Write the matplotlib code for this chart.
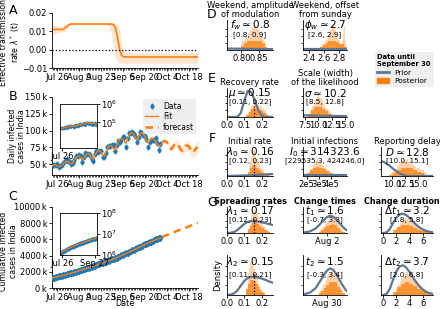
import numpy as np
import pandas as pd
import matplotlib
matplotlib.use("Agg")
import matplotlib.pyplot as plt
from matplotlib.lines import Line2D
from matplotlib.patches import Patch
from matplotlib.ticker import FuncFormatter, NullFormatter, FixedLocator

plt.rcParams['font.family'] = ['DejaVu Sans']
plt.rcParams['mathtext.fontset'] = 'dejavusans'

# ---------------- data ----------------
date_ticks = ['2020-07-26', '2020-08-09', '2020-08-23', '2020-09-06',
              '2020-09-20', '2020-10-04', '2020-10-18']
date_tick_labels = ['Jul 26', 'Aug 9', 'Aug 23', 'Sep 6', 'Sep 20', 'Oct 4', 'Oct 18']

lam_start = '2020-07-23'
lam_mid = ([0.011] * 7 + [0.0112, 0.0118, 0.0126, 0.0133, 0.0138, 0.0140] + [0.014] * 26 +
           [0.0136, 0.0122, 0.0092, 0.0045, 0.0002, -0.0028, -0.0037, -0.0040] + [-0.004] * 47)
lam_hi = ([0.0138, 0.0135, 0.0132, 0.0128, 0.0125, 0.0125, 0.0128] +
          [0.0133, 0.0137, 0.0141, 0.0144, 0.0145, 0.0145] + [0.0144] * 26 +
          [0.0145, 0.0145, 0.0143, 0.0135, 0.0100, 0.0040, 0.0000, -0.0012] + [-0.0016] * 47)
lam_lo = ([0.0082, 0.0085, 0.0088, 0.0092, 0.0095, 0.0096, 0.0097] +
          [0.0098, 0.0102, 0.0110, 0.0122, 0.0132, 0.0135] + [0.0136] * 23 + [0.0128, 0.0105, 0.0070] +
          [0.0020, -0.0030, -0.0060, -0.0070, -0.0073, -0.0074, -0.0075, -0.0075] + [-0.0074] * 47)

data_start = '2020-07-23'
daily_cases = [49310, 48916, 48661, 49931, 46484, 47703, 48513, 52123, 55079,
               57118, 54735, 52972, 50629, 52509, 56282, 62538, 61537, 64399, 62064,
               53601, 60963, 66999, 64553, 65002, 63490, 57981, 55079, 64531, 69652,
               68898, 69878, 69239, 61408, 60975, 67151, 75760, 77266, 76472, 78761, 78512,
               69921, 78357, 83883, 83341, 86432, 90632, 90802, 75809, 89706, 95735,
               96551, 97570, 94372, 92071, 83809, 90123, 97894, 96424, 93337, 92605,
               86961, 75083, 83347, 86508, 86052, 85362, 88600, 82170, 70589, 80472]
daily_fit = [48500, 48800, 49000, 48000, 46500, 46800, 48500, 51000, 53000,
             54500, 54000, 52000, 50500, 52000, 56000, 59500, 61500, 62000, 60000,
             56000, 58500, 63500, 65500, 65500, 63500, 59500, 58000, 63000, 67500,
             69500, 70000, 68000, 63500, 62500, 67500, 73500, 77000, 77500, 76500, 73500,
             71000, 77500, 84000, 87000, 88000, 87000, 83500, 81000, 88000, 94000,
             96500, 96500, 94000, 90000, 86500, 90500, 95500, 96500, 95000, 91000,
             85500, 81500, 84500, 87500, 88000, 87000, 84500, 79500, 76500, 79000]
forecast_start = '2020-10-01'
daily_forecast = [82000, 84000, 84500, 83000, 79000, 74000, 72500, 76000, 80000, 81000,
                  80000, 76000, 71500, 70000, 73500, 77000, 78000, 77000, 73000, 69000,
                  67500, 71000, 74000, 75000]
forecast_err = [3000, 3300, 3600, 3900, 4200, 4500, 4800, 5100, 5400, 5700,
                6000, 6300, 6600, 6900, 7200, 7500, 7800, 8100, 8400, 8700,
                9000, 9300, 9600, 9900]
cum_before_start = 1189325

# ---- posterior / prior panels ----
fw_prior_x = [0.758, 0.892]; fw_prior_y = [0.05, 0.03]
fw_light = [0.2, 0.35, 0.3, 0.45, 0.5, 0.4, 0.6, 0.55, 0.7, 0.65, 0.8, 0.75, 0.9, 0.85, 0.8,
            0.7, 0.75, 0.6, 0.55, 0.45, 0.5, 0.35, 0.3, 0.2, 0.1]
fw_dark = [0.15, 0.25, 0.3, 0.32, 0.33, 0.33, 0.32, 0.3, 0.25, 0.12]

phi_prior_x = [2.325, 2.9]; phi_prior_y = [0.04, 0.04]
phi_light = [0.1, 0.15, 0.2, 0.25, 0.3, 0.35, 0.4, 0.45, 0.55, 0.65, 0.75, 0.85, 0.9, 0.8, 0.7,
             0.55, 0.45, 0.35, 0.25, 0.2, 0.3, 0.6, 0.85, 0.3, 0.1]
phi_dark = [0.1, 0.18, 0.25, 0.3, 0.33, 0.33, 0.28, 0.2, 0.2, 0.1]

mu_prior_x = [0.0, 0.06, 0.08, 0.1, 0.12, 0.14, 0.16, 0.18, 0.2, 0.22, 0.265]
mu_prior_y = [0.0, 0.0, 0.15, 0.6, 0.95, 0.9, 0.6, 0.25, 0.05, 0.0, 0.0]
mu_light = [0.05, 0.1, 0.15, 0.2, 0.3, 0.35, 0.4, 0.5, 0.45, 0.5, 0.55, 0.45, 0.5, 0.4, 0.45,
            0.35, 0.3, 0.3, 0.25, 0.2, 0.15, 0.15, 0.1, 0.08, 0.05]
mu_dark = [0.08, 0.18, 0.28, 0.32, 0.3, 0.26, 0.2, 0.14, 0.09, 0.05]

sig_prior_x = [7.1, 15.4]; sig_prior_y = [0.06, 0.03]
sig_light = [0.05, 0.1, 0.2, 0.3, 0.4, 0.55, 0.6, 0.7, 0.75, 0.8, 0.7, 0.65, 0.6, 0.5, 0.45,
             0.35, 0.3, 0.25, 0.2, 0.15, 0.12, 0.1, 0.08, 0.05, 0.03]
sig_dark = [0.1, 0.25, 0.35, 0.38, 0.35, 0.28, 0.2, 0.12, 0.07, 0.03]

l0_prior_x = [0.0, 0.05, 0.1, 0.15, 0.2, 0.265]
l0_prior_y = [0.0, 0.01, 0.02, 0.03, 0.05, 0.07]
l0_light = [0.1, 0.2, 0.35, 0.5, 0.7, 0.85, 0.95, 0.8, 0.9, 0.7, 0.6, 0.65, 0.5, 0.4, 0.45,
            0.3, 0.25, 0.3, 0.2, 0.15, 0.1, 0.12, 0.08, 0.05, 0.03]
l0_dark = [0.15, 0.3, 0.38, 0.36, 0.3, 0.24, 0.17, 0.12, 0.07, 0.04]

i0_prior_x = [1.7e5, 5.3e5]; i0_prior_y = [0.03, 0.03]
i0_light = [0.05, 0.1, 0.15, 0.25, 0.3, 0.4, 0.5, 0.55, 0.6, 0.5, 0.55, 0.45, 0.4, 0.35, 0.3,
            0.25, 0.2, 0.2, 0.15, 0.12, 0.1, 0.08, 0.06, 0.04, 0.02]
i0_dark = [0.1, 0.2, 0.3, 0.33, 0.3, 0.24, 0.17, 0.11, 0.07, 0.03]

d_prior_x = [7.9, 8.5, 9, 9.5, 10, 10.5, 11, 11.5, 12, 12.5, 13, 17.9]
d_prior_y = [0.55, 0.5, 0.45, 0.38, 0.3, 0.22, 0.15, 0.09, 0.05, 0.02, 0.0, 0.0]
d_light = [0.05, 0.1, 0.15, 0.2, 0.25, 0.35, 0.45, 0.5, 0.55, 0.6, 0.55, 0.6, 0.5, 0.55, 0.45,
           0.4, 0.35, 0.3, 0.3, 0.25, 0.2, 0.2, 0.15, 0.1, 0.05]
d_dark = [0.05, 0.12, 0.2, 0.28, 0.3, 0.28, 0.22, 0.16, 0.1, 0.05]

lam_prior_x = [0.0, 0.02, 0.04, 0.06, 0.08, 0.1, 0.12, 0.14, 0.16, 0.18, 0.2, 0.22, 0.24, 0.265]
lam_prior_y = [0.0, 0.01, 0.04, 0.12, 0.25, 0.37, 0.45, 0.48, 0.48, 0.46, 0.43, 0.4, 0.36, 0.32]
l1_light = [0.1, 0.2, 0.35, 0.5, 0.65, 0.8, 0.9, 0.95, 0.85, 0.9, 0.75, 0.7, 0.6, 0.55, 0.5,
            0.4, 0.35, 0.3, 0.25, 0.2, 0.15, 0.12, 0.1, 0.06, 0.03]
l1_dark = [0.15, 0.3, 0.4, 0.4, 0.35, 0.28, 0.2, 0.14, 0.08, 0.04]
l2_light = [0.1, 0.2, 0.35, 0.55, 0.7, 0.85, 0.95, 0.9, 0.85, 0.8, 0.7, 0.65, 0.55, 0.5, 0.45,
            0.35, 0.3, 0.25, 0.2, 0.15, 0.12, 0.1, 0.08, 0.05, 0.03]
l2_dark = [0.15, 0.3, 0.4, 0.4, 0.35, 0.28, 0.2, 0.14, 0.08, 0.04]

t_prior_x = [-8, -6, -4, -2, -1, 0, 1, 2, 3, 4, 5, 6, 7]
t_prior_y = [0.02, 0.06, 0.18, 0.42, 0.55, 0.65, 0.7, 0.66, 0.56, 0.42, 0.28, 0.16, 0.08]
t1_light = [0.05, 0.1, 0.15, 0.2, 0.25, 0.3, 0.35, 0.4, 0.45, 0.5, 0.55, 0.6, 0.5, 0.55, 0.65,
            0.6, 0.75, 0.55, 0.4, 0.3, 0.2, 0.15, 0.1, 0.05, 0.03]
t1_dark = [0.05, 0.12, 0.2, 0.28, 0.33, 0.35, 0.32, 0.2, 0.1, 0.04]
t2_light = [0.05, 0.1, 0.12, 0.18, 0.25, 0.3, 0.35, 0.4, 0.5, 0.55, 0.6, 0.55, 0.6, 0.65, 0.55,
            0.7, 0.6, 0.5, 0.4, 0.3, 0.2, 0.15, 0.1, 0.05, 0.03]
t2_dark = [0.05, 0.1, 0.18, 0.27, 0.33, 0.35, 0.33, 0.22, 0.12, 0.05]

dt_prior_x = [0, 0.5, 1, 1.5, 2, 2.5, 3, 3.5, 4, 4.5, 5, 5.5, 6, 6.5, 7, 7.5]
dt_prior_y = [0.0, 0.02, 0.15, 0.4, 0.62, 0.75, 0.78, 0.72, 0.6, 0.46, 0.33, 0.22, 0.14, 0.08,
              0.05, 0.03]
dt1_light = [0.05, 0.1, 0.2, 0.3, 0.4, 0.5, 0.55, 0.6, 0.55, 0.5, 0.45, 0.6, 0.4, 0.35, 0.3,
             0.25, 0.2, 0.15, 0.12, 0.1, 0.08, 0.06, 0.05, 0.04, 0.02]
dt1_dark = [0.12, 0.25, 0.33, 0.33, 0.28, 0.2, 0.14, 0.09, 0.05, 0.03]
dt2_light = [0.03, 0.08, 0.15, 0.25, 0.35, 0.45, 0.5, 0.55, 0.6, 0.55, 0.5, 0.45, 0.45, 0.4, 0.35,
             0.3, 0.25, 0.2, 0.15, 0.12, 0.1, 0.08, 0.06, 0.04, 0.03]
dt2_dark = [0.08, 0.2, 0.3, 0.33, 0.3, 0.24, 0.17, 0.11, 0.07, 0.04]

# ---------------- style ----------------
ORANGE = '#ff7f0e'
BLUE = '#1f77b4'
PRIOR = '#60768f'
FS = 6

W, H = 440, 309
fig = plt.figure(figsize=(4.4, 3.09), dpi=100)


def add_ax(l, t, r, b):
    return fig.add_axes([l / W, 1 - b / H, (r - l) / W, (b - t) / H])


def style_time_axis(ax):
    ax.spines['top'].set_visible(False)
    ax.spines['right'].set_visible(False)
    ax.set_xlim(pd.Timestamp('2020-07-22 16:00'), pd.Timestamp('2020-10-24'))
    ax.set_xticks(pd.to_datetime(date_ticks))
    ax.set_xticklabels(date_tick_labels)
    ax.xaxis.set_minor_locator(FixedLocator(
        [matplotlib.dates.date2num(d) for d in pd.date_range('2020-07-23', '2020-10-23', freq='D')]))
    ax.tick_params(axis='both', labelsize=FS, length=2.5, pad=1, width=0.6)
    ax.tick_params(axis='x', which='minor', length=1.2, width=0.5)
    for s in ax.spines.values():
        s.set_linewidth(0.6)


lam_dates = pd.date_range(lam_start, periods=len(lam_mid), freq='D')
dates = pd.date_range(data_start, periods=len(daily_cases), freq='D')
fc_dates = pd.date_range(forecast_start, periods=len(daily_forecast), freq='D')
fc = np.array(daily_forecast)
fc_e = np.array(forecast_err)

# ---- A ----
axA = add_ax(52, 13, 198, 68)
axA.fill_between(lam_dates, lam_lo, lam_hi, color=ORANGE, alpha=0.2, lw=0)
axA.plot(lam_dates, lam_mid, color=ORANGE, lw=1.2)
axA.axhline(0, color='black', ls=':', lw=0.9)
axA.set_ylim(-0.01, 0.02)
axA.set_yticks([-0.01, 0.0, 0.01, 0.02])
axA.set_yticklabels(['−0.01', '0.00', '0.01', '0.02'])
axA.set_ylabel('Effective transmission\nrate $\\lambda^*$ (t)', fontsize=5.6, linespacing=1.1)
axA.yaxis.set_label_coords(-0.205, 0.47)
style_time_axis(axA)

# ---- B ----
axB = add_ax(52, 97, 198, 175)
h_data = axB.errorbar(dates, daily_cases, yerr=None, fmt='d', color=BLUE, ms=2.6, zorder=3)
h_fit, = axB.plot(dates, daily_fit, color=ORANGE, lw=1.0, zorder=4)
axB.fill_between(fc_dates, fc - fc_e, fc + fc_e, color=ORANGE, alpha=0.15, lw=0)
h_fc, = axB.plot(fc_dates, fc, color=ORANGE, lw=1.8, ls=(0, (3, 2)))
axB.set_ylim(34000, 150000)
axB.set_yticks([50000, 75000, 100000, 125000, 150000])
axB.yaxis.set_major_formatter(FuncFormatter(lambda v, p: f'{int(v / 1000)}\u2009k'))
axB.set_ylabel('Daily infected\ncases in India', fontsize=5.6, linespacing=1.1)
axB.yaxis.set_label_coords(-0.175, 0.5)
style_time_axis(axB)
legB = axB.legend([h_data, h_fit, h_fc], ['Data', 'Fit', 'forecast'],
                  loc='upper right', bbox_to_anchor=(1.0, 0.99), fontsize=5.5, frameon=True,
                  borderpad=0.3, labelspacing=0.2, handlelength=1.7, handletextpad=0.6,
                  borderaxespad=0.2)
legB.get_frame().set_facecolor('#ececec')
legB.get_frame().set_edgecolor('none')

insB = add_ax(60, 104, 97, 148)
insB.plot(dates, daily_cases, 'd', color=BLUE, ms=1.3)
insB.plot(dates, daily_fit, color=ORANGE, lw=0.8)
insB.set_yscale('log')
insB.set_ylim(4e3, 1e6)
insB.set_xlim(pd.Timestamp('2020-07-22'), pd.Timestamp('2020-10-01'))
insB.yaxis.tick_right()
insB.set_yticks([1e5, 1e6])
insB.yaxis.set_minor_formatter(NullFormatter())
insB.set_xticks([pd.Timestamp('2020-07-26')])
insB.set_xticklabels(['Jul 26'])
insB.tick_params(labelsize=FS, length=2, pad=1, width=0.6)
insB.tick_params(which='minor', length=0)
for s in insB.spines.values():
    s.set_linewidth(0.6)

# ---- C ----
cum_data = cum_before_start + np.cumsum(daily_cases)
cum_fit = cum_before_start + np.cumsum(daily_fit)
cum_fc = cum_fit[-1] + np.cumsum(daily_forecast)
axC = add_ax(52, 207, 198, 288)
axC.plot(dates, cum_data, 'd', color=BLUE, ms=3.2, zorder=3)
axC.plot(dates, cum_fit, color=ORANGE, lw=1.0, zorder=4)
axC.plot(fc_dates, cum_fc, color=ORANGE, lw=1.8, ls=(0, (3, 2)))
axC.set_ylim(0, 1e7)
axC.set_yticks([0, 2e6, 4e6, 6e6, 8e6, 1e7])
axC.yaxis.set_major_formatter(FuncFormatter(lambda v, p: f'{int(v / 1000)}\u2009k'))
axC.set_ylabel('Cumulative infected\ncases in India', fontsize=5.6, linespacing=1.1)
axC.yaxis.set_label_coords(-0.235, 0.45)
axC.set_xlabel('Date', fontsize=5.8, labelpad=0)
axC.xaxis.set_label_coords(0.5, -0.138)
style_time_axis(axC)

insC = add_ax(60, 213, 97, 255)
insC.plot(dates, cum_data, 'd', color=BLUE, ms=1.6)
insC.plot(dates, cum_fit, color=ORANGE, lw=0.8)
insC.set_yscale('log')
insC.set_ylim(1e6, 1e8)
insC.set_xlim(pd.Timestamp('2020-07-22'), pd.Timestamp('2020-10-01'))
insC.yaxis.tick_right()
insC.set_yticks([1e6, 1e7, 1e8])
insC.yaxis.set_minor_formatter(NullFormatter())
insC.set_xticks([pd.Timestamp('2020-07-26'), pd.Timestamp('2020-09-27')])
insC.set_xticklabels(['Jul 26', 'Sep 27'])
insC.tick_params(labelsize=FS, length=2, pad=1, width=0.6)
insC.tick_params(which='minor', length=0)
for s in insC.spines.values():
    s.set_linewidth(0.6)

# ---- panel letters ----
for letter, (x, y) in {'A': (13, 11), 'B': (13, 97), 'C': (13, 196),
                       'D': (212, 14), 'E': (212, 78), 'F': (212, 138), 'G': (212, 202)}.items():
    fig.text(x / W, 1 - y / H, letter, fontsize=9, ha='center', va='center')


# ---- distribution panels ----
def dist_panel(box, xlim, xticks, xticklabels, prior_x, prior_y, lrange, light, drange, dark,
               label, ci, title=None, vline=None, title_bold=False, ylabel=None, title_x=0.5):
    ax = add_ax(*box)
    light = np.asarray(light, float)
    dark = np.asarray(dark, float)
    lw_ = (lrange[1] - lrange[0]) / len(light)
    dw_ = (drange[1] - drange[0]) / len(dark)
    ax.bar(lrange[0] + lw_ * np.arange(len(light)), light, width=lw_, align='edge',
           color=ORANGE, alpha=0.35, lw=0)
    ax.bar(drange[0] + dw_ * np.arange(len(dark)), dark, width=dw_, align='edge',
           color=ORANGE, alpha=0.75, lw=0)
    ax.plot(prior_x, prior_y, color=PRIOR, lw=1.6, solid_capstyle='round')
    if vline is not None:
        ax.axvline(vline, color='black', ls=':', lw=0.9, ymax=0.55)
    ax.set_xlim(*xlim)
    ax.set_ylim(0, 1.05)
    ax.set_xticks(xticks)
    ax.set_xticklabels(xticklabels)
    ax.set_yticks([0.25, 0.5, 0.75])
    ax.set_yticklabels([])
    ax.spines['top'].set_visible(False)
    ax.spines['right'].set_visible(False)
    for s in ax.spines.values():
        s.set_linewidth(0.6)
    ax.tick_params(labelsize=FS, length=2, pad=1, width=0.6)
    ax.tick_params(axis='y', length=1.5)
    ax.text(0.5, 0.83, label, transform=ax.transAxes, ha='center', va='center', fontsize=7.5)
    ax.text(0.5, 0.52, ci, transform=ax.transAxes, ha='center', va='center', fontsize=5.2)
    if title is not None:
        ax.set_title(title, fontsize=FS if not title_bold else 5.8, pad=2, x=title_x,
                     fontweight='bold' if title_bold else 'normal', linespacing=1.0)
    if ylabel is not None:
        ax.set_ylabel(ylabel, fontsize=FS, labelpad=1)
    return ax


C1 = (227, 273)
C2 = (303, 347)
C3 = (381, 433)

dist_panel((C1[0], 20, C1[1], 50), (0.758, 0.892), [0.80, 0.85], ['0.80', '0.85'],
           fw_prior_x, fw_prior_y, (0.800, 0.875), fw_light, (0.800, 0.875), fw_dark,
           '$f_w \\simeq 0.8$', '[0.8, 0.9]', title='Weekend, amplitude\nof modulation')
dist_panel((C2[0], 20, C2[1], 50), (2.325, 2.9), [2.4, 2.6, 2.8], ['2.4', '2.6', '2.8'],
           phi_prior_x, phi_prior_y, (2.55, 2.9), phi_light, (2.55, 2.9), phi_dark,
           '$\\phi_w \\simeq 2.7$', '[2.6, 2.9]', title='Weekend, offset\nfrom sunday')

dist_panel((C1[0], 88, C1[1], 117), (0.0, 0.265), [0.0, 0.1, 0.2], ['0.0', '0.1', '0.2'],
           mu_prior_x, mu_prior_y, (0.11, 0.25), mu_light, (0.11, 0.25), mu_dark,
           '$\\mu \\simeq 0.15$', '[0.11, 0.22]', title='Recovery rate', vline=0.155)
dist_panel((C2[0], 88, C2[1], 117), (7.1, 15.4), [7.5, 10.0, 12.5, 15.0],
           ['7.5', '10.0', '12.5', '15.0'],
           sig_prior_x, sig_prior_y, (8.0, 13.5), sig_light, (8.0, 13.5), sig_dark,
           '$\\sigma \\simeq 10.2$', '[8.5, 12.8]', title='Scale (width)\nof the likelihood')

dist_panel((C1[0], 147, C1[1], 176), (0.0, 0.265), [0.0, 0.1, 0.2], ['0.0', '0.1', '0.2'],
           l0_prior_x, l0_prior_y, (0.12, 0.24), l0_light, (0.12, 0.24), l0_dark,
           '$\\lambda_0 \\simeq 0.16$', '[0.12, 0.23]', title='Initial rate', vline=0.155)
dist_panel((C2[0], 147, C2[1], 176), (1.7e5, 5.3e5), [2e5, 3e5, 4e5], ['2e5', '3e5', '4e5'],
           i0_prior_x, i0_prior_y, (2.0e5, 4.6e5), i0_light, (2.0e5, 4.6e5), i0_dark,
           '$I_0 \\simeq 314323.6$', '[229535.3, 424246.0]', title='Initial infections')
dist_panel((C3[0], 147, C3[1], 176), (7.9, 17.9), [10.0, 12.5, 15.0], ['10.0', '12.5', '15.0'],
           d_prior_x, d_prior_y, (9.5, 17.0), d_light, (9.5, 17.0), d_dark,
           '$D \\simeq 12.8$', '[10.0, 15.1]', title='Reporting delay')

dist_panel((C1[0], 207, C1[1], 233), (0.0, 0.265), [0.0, 0.1, 0.2], ['0.0', '0.1', '0.2'],
           lam_prior_x, lam_prior_y, (0.12, 0.25), l1_light, (0.12, 0.25), l1_dark,
           '$\\lambda_1 \\simeq 0.17$', '[0.12, 0.23]', title='Spreading rates', title_bold=True,
           vline=0.155)
dist_panel((C1[0], 255, C1[1], 295), (0.0, 0.265), [0.0, 0.1, 0.2], ['0.0', '0.1', '0.2'],
           lam_prior_x, lam_prior_y, (0.11, 0.22), l2_light, (0.11, 0.22), l2_dark,
           '$\\lambda_2 \\simeq 0.15$', '[0.11, 0.21]', vline=0.155, ylabel='Density')

dist_panel((C2[0], 207, C2[1], 233), (-8.3, 6.7), [0], ['Aug 2'],
           t_prior_x, t_prior_y, (-3.0, 6.0), t1_light, (-3.0, 6.0), t1_dark,
           '$t_1 \\simeq 1.6$', '[-0.7, 3.3]', title='Change times', title_bold=True)
dist_panel((C2[0], 255, C2[1], 295), (-8.3, 6.7), [0], ['Aug 30'],
           t_prior_x, t_prior_y, (-3.0, 6.0), t2_light, (-3.0, 6.0), t2_dark,
           '$t_2 \\simeq 1.5$', '[-0.3, 3.4]')

dist_panel((C3[0], 207, C3[1], 233), (-0.3, 7.5), [0, 2, 4, 6], ['0', '2', '4', '6'],
           dt_prior_x, dt_prior_y, (1.5, 7.75), dt1_light, (1.5, 7.5), dt1_dark,
           '$\\Delta t_1 \\simeq 3.2$', '[1.8, 5.8]', title='Change duration', title_bold=True,
           title_x=0.4)
dist_panel((C3[0], 255, C3[1], 295), (-0.3, 7.5), [0, 2, 4, 6], ['0', '2', '4', '6'],
           dt_prior_x, dt_prior_y, (1.5, 7.75), dt2_light, (1.5, 7.5), dt2_dark,
           '$\\Delta t_2 \\simeq 3.7$', '[2.0, 6.8]')

# ---- legend ----
handles = [Line2D([0], [0], color=PRIOR, lw=2), Patch(color=ORANGE)]
leg = fig.legend(handles, ['Prior', 'Posterior'], loc='upper left',
                 bbox_to_anchor=(371 / W, 1 - 48 / H), title='Data until\nSeptember 30',
                 fontsize=5.4, title_fontsize=4.9, frameon=True, alignment='left',
                 borderpad=0.35, labelspacing=0.3, handlelength=1.6, handletextpad=0.7)
leg.get_title().set_fontweight('bold')
leg.get_frame().set_facecolor('#ececec')
leg.get_frame().set_edgecolor('none')

fig.savefig('out.png', dpi=100)
